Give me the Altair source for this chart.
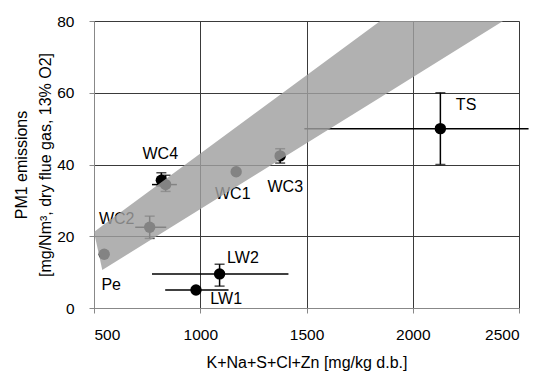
import altair as alt
import pandas as pd

# Sample points (x: K+Na+S+Cl+Zn mg/kg d.b., y: PM1 mg/Nm3)
pt_x = [548, 762, 817, 837, 1169, 1376, 980, 1091, 2130]
pt_y = [15.0, 22.5, 35.6, 34.4, 38.0, 42.4, 5.0, 9.5, 50.0]

# Vertical error bars
ey_x = [762, 817, 837, 1376, 1091, 2130]
ey_lo = [19.4, 34.0, 32.5, 40.4, 6.1, 40.0]
ey_hi = [25.6, 37.7, 37.0, 44.4, 12.2, 60.0]

# Horizontal error bars
ex_y = [22.5, 34.4, 5.0, 9.5, 50.0]
ex_lo = [694, 773, 835, 773, 1490]
ex_hi = [840, 890, 1133, 1415, 2545]

# Labels
lab_text = ["WC4", "WC2", "WC1", "WC3", "Pe", "LW2", "LW1", "TS"]
lab_x = [812, 607, 1153, 1400, 581, 1201, 1122, 2251]
lab_y = [42.9, 24.8, 31.8, 33.8, 6.4, 13.9, 2.5, 56.6]

# Shaded band polygon
band_x = [500, 539, 1847, 2425]
band_lo = [21.2, 10.6, 58.7, 80.0]
band_hi = [21.2, 22.9, 80.0, 80.0]

FONT = "Liberation Sans"

pts = pd.DataFrame({"x": pt_x, "y": pt_y})
ey = pd.DataFrame({"x": ey_x, "lo": ey_lo, "hi": ey_hi})
ex = pd.DataFrame({"y": ex_y, "lo": ex_lo, "hi": ex_hi})
labs = pd.DataFrame({"t": lab_text, "x": lab_x, "y": lab_y})
band = pd.DataFrame({"x": band_x, "lo": band_lo, "hi": band_hi})

xs = alt.Scale(domain=[500, 2500], nice=False, zero=False)
ys = alt.Scale(domain=[0, 80], nice=False, zero=False)

xaxis = alt.Axis(values=[500, 1000, 1500, 2000, 2500], title="K+Na+S+Cl+Zn [mg/kg d.b.]",
                 format="d", labelFontSize=15.5, titleFontSize=16, labelPadding=14,
                 titlePadding=12, titleFontWeight="normal", grid=True,
                 gridColor="#3a3a3a", gridWidth=1, gridOpacity=1)
yaxis = alt.Axis(values=[0, 20, 40, 60, 80],
                 title=["PM1 emissions", "[mg/Nm³, dry flue gas, 13% O2]"],
                 labelFontSize=15.5, titleFontSize=16, labelPadding=15,
                 titlePadding=3, titleLineHeight=24, titleFontWeight="normal", grid=True,
                 gridColor="#3a3a3a", gridWidth=1, gridOpacity=1)

base_x = alt.X("x:Q", scale=xs, axis=xaxis)
base_y = alt.Y("y:Q", scale=ys, axis=yaxis)

texts = alt.Chart(labs).mark_text(font=FONT, fontSize=16, color="black").encode(
    x=base_x, y=base_y, text="t:N")

vbars = alt.Chart(ey).mark_rule(color="black", strokeWidth=1.5).encode(
    x=alt.X("x:Q", scale=xs), y=alt.Y("lo:Q", scale=ys), y2="hi:Q")
capslo = alt.Chart(ey).mark_tick(color="black", thickness=1.5, size=10, orient="horizontal").encode(
    x=alt.X("x:Q", scale=xs), y=alt.Y("lo:Q", scale=ys))
capshi = alt.Chart(ey).mark_tick(color="black", thickness=1.5, size=10, orient="horizontal").encode(
    x=alt.X("x:Q", scale=xs), y=alt.Y("hi:Q", scale=ys))
hbars = alt.Chart(ex).mark_rule(color="black", strokeWidth=1.5).encode(
    y=alt.Y("y:Q", scale=ys), x=alt.X("lo:Q", scale=xs), x2="hi:Q")

points = alt.Chart(pts).mark_point(filled=True, color="black", size=130, opacity=1,
                                   shape="circle").encode(x=base_x, y=base_y)

bandm = alt.Chart(band).mark_area(color="#a0a0a0", opacity=0.82, interpolate="linear").encode(
    x=alt.X("x:Q", scale=xs), y=alt.Y("lo:Q", scale=ys), y2="hi:Q")

chart = alt.layer(texts, vbars, capslo, capshi, hbars, points, bandm).properties(
    width=425, height=287,
    autosize=alt.AutoSizeParams(type="none"),
    padding={"left": 86, "top": 13, "right": 10, "bottom": 64},
).configure_view(
    stroke="black", strokeWidth=1.5
).configure_axis(
    labelFont=FONT, titleFont=FONT, labelColor="black", titleColor="black",
    titleFontWeight="normal", domainColor="black", domainWidth=1.5,
    tickColor="black", tickSize=5, tickWidth=1,
    gridColor="#3a3a3a", gridWidth=1, gridOpacity=1, grid=True
).configure(background="white")

chart.save("out.html", embed_options={"renderer": "svg", "actions": False})
